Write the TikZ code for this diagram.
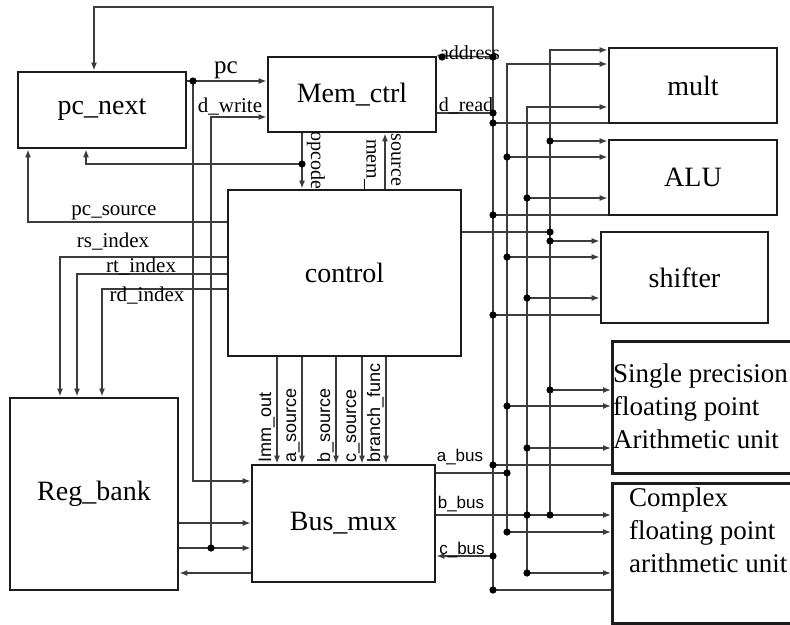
\documentclass[tikz,border=0pt]{standalone}
\usepackage{fontspec}
\setmainfont{Liberation Serif}
\setsansfont{Liberation Sans}
\usetikzlibrary{arrows.meta}
\definecolor{boxline}{HTML}{1c1c1c}
\definecolor{wireline}{HTML}{3c3c3c}

\begin{document}
\begin{tikzpicture}[x=1pt,y=-1pt,
  blk/.style={draw=boxline,line width=2.6pt,fill=white,inner sep=0pt,font=\fontsize{28}{30}\selectfont},
  wire/.style={draw=wireline,line width=1.5pt},
  arr/.style={wire,-{Latex[length=8pt,width=6pt]}},
  lbl/.style={inner sep=0pt,font=\fontsize{21}{22}\selectfont},
  slbl/.style={inner sep=1pt,font=\sffamily\fontsize{18}{19}\selectfont},
  unittxt/.style={anchor=west,align=left,inner sep=0pt,font=\fontsize{27}{33}\selectfont}]
  \useasboundingbox (0,0) rectangle (790,624);

  % blocks
  \node[blk,minimum width=168,minimum height=76] (pcnext) at (102,110) {pc\_next};
  \node[blk,minimum width=168,minimum height=75] (memctrl) at (352,94.5) {Mem\_ctrl};
  \node[blk,minimum width=233,minimum height=166] (control) at (344.5,273) {control};
  \node[blk,minimum width=168,minimum height=192] (regbank) at (94,494) {Reg\_bank};
  \node[blk,minimum width=183,minimum height=117] (busmux) at (343.5,523.5) {Bus\_mux};
  \node[blk,minimum width=168,minimum height=75] (mult) at (693,85.5) {mult};
  \node[blk,minimum width=168,minimum height=75] (alu) at (693,177.5) {ALU};
  \node[blk,minimum width=167,minimum height=91] (shifter) at (684.5,277.5) {shifter};
  \node[blk,minimum width=200,minimum height=132,anchor=north west] (single) at (611,340) {};
  \node[blk,minimum width=200,minimum height=140,anchor=north west] (complex) at (611,482) {};
  \node[unittxt] (singletxt) at (613,406) {Single precision\\floating point\\Arithmetic unit};
  \node[unittxt] (complextxt) at (629,530) {Complex\\floating point\\arithmetic unit};

  % bus columns
  \coordinate (ctop) at (493,7);   \coordinate (cbot) at (493,590);
  \coordinate (atop) at (507,64);  \coordinate (abot) at (507,532);
  \coordinate (btop) at (527,107); \coordinate (bbot) at (527,573);
  \coordinate (ftop) at (550,50);  \coordinate (fbot) at (550,515);
  \coordinate (pcdot) at (193,81);
  \coordinate (dwdot) at (211,548);
  \coordinate (opdot) at (302,164);
  \coordinate (addot) at (442,57);

  \draw[arr] (cbot) -- (ctop) -| ([xshift=-8]pcnext.north);
  \draw[arr] (abot) -- (atop) -- (mult.west|-atop);
  \draw[arr] (bbot) -- (btop) -- (mult.west|-btop);
  \draw[arr] (fbot) -- (ftop) -- (mult.west|-ftop);
  \draw[wire] (493,123) -- (mult.west|-0,123);

  \foreach \u/\yf/\ya/\yb/\yc in {alu/141/157/198/215,shifter/241/257/298/315,single/390/406/448/465}{
    \draw[arr] (550,\yf) -- (\u.west|-0,\yf);
    \draw[arr] (507,\ya) -- (\u.west|-0,\ya);
    \draw[arr] (527,\yb) -- (\u.west|-0,\yb);
    \draw[wire] (493,\yc) -- (\u.west|-0,\yc);
  }
  \draw[arr] (abot) -- (complex.west|-abot);
  \draw[arr] (bbot) -- (complex.west|-bbot);
  \draw[wire] (cbot) -- (complex.west|-cbot);

  % memory and pc wires
  \draw[wire] (pcnext.east|-pcdot) -- (pcdot);
  \draw[arr] (pcdot) -- (memctrl.west|-pcdot);
  \draw[arr] (pcdot) |- (busmux.west|-0,481);
  \draw[arr] (dwdot) |- (memctrl.west|-0,117);
  \draw[wire] (memctrl.north east) -- (493,57);
  \draw[wire] (memctrl.east|-0,113) -- (493,113);
  \draw[arr] (memctrl.south-|opdot) -- (control.north-|opdot);
  \draw[arr] (opdot) -| ([xshift=-16]pcnext.south);
  \draw[arr] (control.north-|385,0) -- (memctrl.south-|385,0);

  % control wires
  \draw[arr] (control.west|-0,222) -| ([xshift=-74]pcnext.south);
  \foreach \y/\x in {257/60,274/77,289/102}
    \draw[arr] (control.west|-0,\y) -| (regbank.north-|\x,0);
  \foreach \x in {277,302,336,362,386}
    \draw[arr] (control.south-|\x,0) -- (busmux.north-|\x,0);
  \draw[wire] (control.east|-0,232) -- (550,232);

  % register and bus wires
  \draw[arr] (regbank.east|-0,523) -- (busmux.west|-0,523);
  \draw[arr] (regbank.east|-dwdot) -- (busmux.west|-dwdot);
  \draw[arr] (busmux.west|-0,573) -- (regbank.east|-0,573);
  \draw[wire] (busmux.east|-0,473) -- (507,473);
  \draw[arr] (busmux.east|-0,515) -- (complex.west|-0,515);
  \draw[arr] (493,556) -- (busmux.east|-0,556);

  \foreach \p in {(pcdot),(dwdot),(opdot),(addot),(493,57),(493,113),(493,123),
    (550,141),(507,157),(527,198),(493,215),(550,232),(550,241),(507,257),(527,298),(493,315),
    (550,390),(507,406),(527,448),(493,465),(507,473),(527,515),(550,515),(507,532),
    (493,556),(527,573),(493,590)}
    \fill[black] \p circle[radius=3.6pt];

  % labels
  \node[lbl,font=\fontsize{25}{26}\selectfont] (pclbl) at (226,70) {pc};
  \node[lbl] (dwlbl) at (230,107) {d\_write};
  \node[lbl,font=\fontsize{20}{21}\selectfont] (adlbl) at (470,53) {address};
  \node[lbl,font=\fontsize{20}{21}\selectfont] (drlbl) at (466,106) {d\_read};
  \node[lbl,font=\fontsize{20}{21}\selectfont,rotate=-90] (oplbl) at (316,160) {opcode};
  \node[lbl,font=\fontsize{20}{21}\selectfont,rotate=-90] (memlbl) at (370,164) {mem\_};
  \node[lbl,font=\fontsize{20}{21}\selectfont,rotate=-90] (srclbl) at (396,160) {source};
  \node[lbl] (pcslbl) at (114,213) {pc\_source};
  \node[lbl] (rslbl) at (113,242) {rs\_index};
  \node[lbl] (rtlbl) at (141,267) {rt\_index};
  \node[lbl] (rdlbl) at (147,296) {rd\_index};
  \foreach \x/\t in {277/Imm\_out,302/a\_source,336/b\_source,362/c\_source,386/branch\_func}
    \node[slbl,rotate=90,anchor=south west] (sel\x) at (\x-1,464) {\t};
  \node[slbl,font=\sffamily\fontsize{17}{18}\selectfont] (abuslbl) at (460,457) {a\_bus};
  \node[slbl,font=\sffamily\fontsize{17}{18}\selectfont] (bbuslbl) at (461,504) {b\_bus};
  \node[slbl,font=\sffamily\fontsize{17}{18}\selectfont] (cbuslbl) at (462,550) {c\_bus};
\end{tikzpicture}
\end{document}
